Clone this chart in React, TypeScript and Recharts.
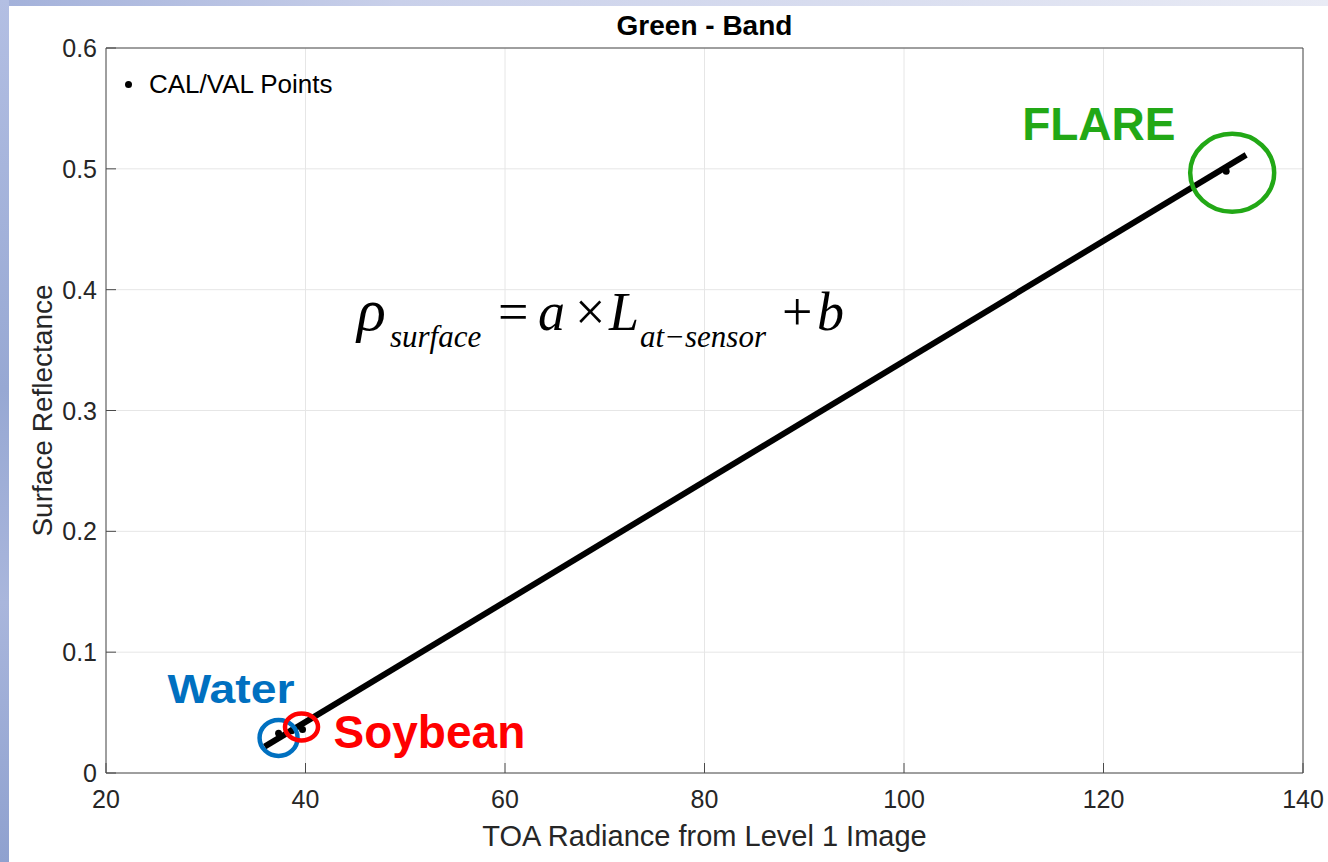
import React from "react";
import {
  ComposedChart,
  Scatter,
  XAxis,
  YAxis,
  CartesianGrid,
  ReferenceDot,
  Legend,
  Label,
} from "recharts";

// CAL/VAL targets
const pointX = [37.3, 38.6, 39.7, 132.3];
const pointY = [0.033, 0.035, 0.036, 0.498];

// fitted regression line, end points
const fitX = [35.9, 134.3];
const fitY = [0.0218, 0.5116];

const xTicks = [20, 40, 60, 80, 100, 120, 140];
const yTicks = [0, 0.1, 0.2, 0.3, 0.4, 0.5, 0.6];

// circled targets
const targetNames = ["FLARE", "Water", "Soybean"];
const targetX = [132.9, 37.3, 39.6];
const targetY = [0.4967, 0.029, 0.0381];

// where the equation sits (data units)
const formulaX = 45.16;
const formulaY = 0.3667;

const points = pointX.map((x, i) => ({ x, y: pointY[i] }));
const fitLine = fitX.map((x, i) => ({ x, y: fitY[i] }));

const SANS = "'Liberation Sans', Arial, Helvetica, sans-serif";
const SERIF = "'Liberation Serif', 'Times New Roman', serif";
const AXIS = "#4a4a4a";
const TEXT = "#262626";

const targetStyle: Record<
  string,
  { color: string; rx: number; ry: number; dx: number; dy: number; size: number; len?: number }
> = {
  FLARE: { color: "#22a816", rx: 42, ry: 39, dx: -210, dy: -33, size: 46 },
  Water: { color: "#0070c0", rx: 19, ry: 18, dx: -111, dy: -35, size: 40, len: 127 },
  Soybean: { color: "#ff0000", rx: 16.5, ry: 13.5, dx: 32, dy: 21, size: 46 },
};

function BottomTick({ x, y, payload }: any) {
  return (
    <g>
      <line x1={x} x2={x} y1={y} y2={y - 10} stroke={AXIS} />
      <text x={x} y={y + 35} textAnchor="middle" fill={TEXT} fontSize={25} fontFamily={SANS}>
        {payload.value}
      </text>
    </g>
  );
}

function TopTick({ x, y }: any) {
  return <line x1={x} x2={x} y1={y} y2={y + 10} stroke={AXIS} />;
}

function LeftTick({ x, y, payload }: any) {
  const v = payload.value;
  return (
    <g>
      <line x1={x} x2={x + 10} y1={y} y2={y} stroke={AXIS} />
      <text x={x - 9} y={y + 9} textAnchor="end" fill={TEXT} fontSize={25} fontFamily={SANS}>
        {v === 0 ? "0" : String(v)}
      </text>
    </g>
  );
}

function RightTick({ x, y }: any) {
  return <line x1={x} x2={x - 10} y1={y} y2={y} stroke={AXIS} />;
}

function Dot(props: any) {
  return <circle cx={props.cx} cy={props.cy} r={3.5} fill="#000" />;
}

function Nothing() {
  return <g />;
}

function Target(name: string) {
  return (props: any) => {
    const s = targetStyle[name];
    const { cx, cy } = props;
    return (
      <g>
        <ellipse cx={cx} cy={cy} rx={s.rx} ry={s.ry} fill="none" stroke={s.color} strokeWidth={4.5} />
        <text
          x={cx + s.dx}
          y={cy + s.dy}
          fill={s.color}
          fontSize={s.size}
          fontWeight="bold"
          fontFamily={SANS}
          textLength={s.len}
          lengthAdjust={s.len ? "spacingAndGlyphs" : undefined}
        >
          {name}
        </text>
      </g>
    );
  };
}

function Formula(props: any) {
  const { cx, cy } = props;
  const main = { fontFamily: SERIF, fontSize: 54, fill: "#000" };
  const sub = { fontFamily: SERIF, fontSize: 31, fill: "#000", fontStyle: "italic" as const };
  return (
    <g>
      <text x={cx} y={cy} {...main} fontSize={60} fontStyle="italic">ρ</text>
      <text x={cx + 33} y={cy + 17} {...sub}>surface</text>
      <text x={cx + 141} y={cy} {...main}>=</text>
      <text x={cx + 181} y={cy} {...main} fontStyle="italic">a</text>
      <text x={cx + 218} y={cy} {...main}>×</text>
      <text x={cx + 252} y={cy} {...main} fontStyle="italic">L</text>
      <text x={cx + 283} y={cy + 17} {...sub}>at−sensor</text>
      <text x={cx + 425} y={cy} {...main}>+</text>
      <text x={cx + 460} y={cy} {...main} fontStyle="italic">b</text>
    </g>
  );
}

function LegendBox() {
  return (
    <div
      style={{
        display: "flex",
        alignItems: "center",
        fontFamily: SANS,
        fontSize: 26,
        lineHeight: "26px",
        color: "#000",
        whiteSpace: "nowrap",
      }}
    >
      <span
        style={{
          display: "inline-block",
          width: 7,
          height: 7,
          borderRadius: "50%",
          background: "#000",
          marginRight: 17,
        }}
      />
      <span>CAL/VAL Points</span>
    </div>
  );
}

export default function App() {
  return (
    <div
      style={{
        position: "absolute",
        top: 0,
        left: 0,
        width: 1328,
        height: 862,
        overflow: "hidden",
        background: "linear-gradient(90deg, #a3b1da 0%, #c9d0ea 30%, #e9ebf5 100%)",
      }}
    >
      <div
        style={{
          position: "absolute",
          left: 0,
          top: 0,
          width: 9,
          height: 862,
          background: "linear-gradient(180deg, #b3bfe3 0%, #97a8d3 45%, #a9b6dc 70%, #8fa1cf 100%)",
        }}
      />
      <div style={{ position: "absolute", left: 9, top: 6, width: 1319, height: 856, background: "#fff" }} />
      <div style={{ position: "absolute", left: 0, top: 0 }}>
        <ComposedChart width={1328} height={862} margin={{ top: 8, right: 24, bottom: 29, left: 46 }}>
          <CartesianGrid stroke="#e6e6e6" strokeWidth={1} />
          <XAxis
            type="number"
            dataKey="x"
            domain={[20, 140]}
            ticks={xTicks}
            interval={0}
            height={60}
            tickSize={0}
            tickMargin={0}
            tickLine={false}
            axisLine={{ stroke: AXIS }}
            tick={<BottomTick />}
          >
            <Label
              content={(p: any) => {
                const vb = p.viewBox;
                return (
                  <text
                    x={vb.x + vb.width / 2}
                    y={vb.y + 73}
                    textAnchor="middle"
                    fill={TEXT}
                    fontSize={29}
                    fontFamily={SANS}
                  >
                    TOA Radiance from Level 1 Image
                  </text>
                );
              }}
            />
          </XAxis>
          <XAxis
            xAxisId="top"
            orientation="top"
            type="number"
            dataKey="x"
            domain={[20, 140]}
            ticks={xTicks}
            interval={0}
            height={40}
            tickSize={0}
            tickMargin={0}
            tickLine={false}
            axisLine={{ stroke: AXIS }}
            tick={<TopTick />}
          >
            <Label
              content={(p: any) => {
                const vb = p.viewBox;
                return (
                  <text
                    x={vb.x + vb.width / 2}
                    y={vb.y + vb.height - 13}
                    textAnchor="middle"
                    fill="#000"
                    fontSize={28}
                    fontWeight="bold"
                    fontFamily={SANS}
                  >
                    Green - Band
                  </text>
                );
              }}
            />
          </XAxis>
          <YAxis
            type="number"
            dataKey="y"
            domain={[0, 0.6]}
            ticks={yTicks}
            interval={0}
            width={60}
            tickSize={0}
            tickMargin={0}
            tickLine={false}
            axisLine={{ stroke: AXIS }}
            tick={<LeftTick />}
          >
            <Label
              content={(p: any) => {
                const vb = p.viewBox;
                const lx = vb.x + vb.width - 54;
                const ly = vb.y + vb.height / 2;
                return (
                  <text
                    x={lx}
                    y={ly}
                    textAnchor="middle"
                    transform={`rotate(-90 ${lx} ${ly})`}
                    fill={TEXT}
                    fontSize={28}
                    fontFamily={SANS}
                  >
                    Surface Reflectance
                  </text>
                );
              }}
            />
          </YAxis>
          <YAxis
            yAxisId="right"
            orientation="right"
            type="number"
            domain={[0, 0.6]}
            ticks={yTicks}
            interval={0}
            width={1}
            tickSize={0}
            tickMargin={0}
            tickLine={false}
            axisLine={{ stroke: AXIS }}
            tick={<RightTick />}
          />
          <Legend
            layout="vertical"
            align="center"
            verticalAlign="middle"
            wrapperStyle={{ left: 125, top: 71, width: "auto" }}
            content={() => <LegendBox />}
          />
          <Scatter
            name="fit"
            data={fitLine}
            line={{ stroke: "#000", strokeWidth: 6 }}
            shape={<Nothing />}
            legendType="none"
            isAnimationActive={false}
          />
          <Scatter
            name="CAL/VAL Points"
            data={points}
            shape={<Dot />}
            isAnimationActive={false}
          />
          <ReferenceDot x={formulaX} y={formulaY} shape={(p: any) => <Formula {...p} />} />
          {targetNames.map((n, i) => (
            <ReferenceDot key={n} x={targetX[i]} y={targetY[i]} shape={Target(n)} />
          ))}
        </ComposedChart>
      </div>
    </div>
  );
}
